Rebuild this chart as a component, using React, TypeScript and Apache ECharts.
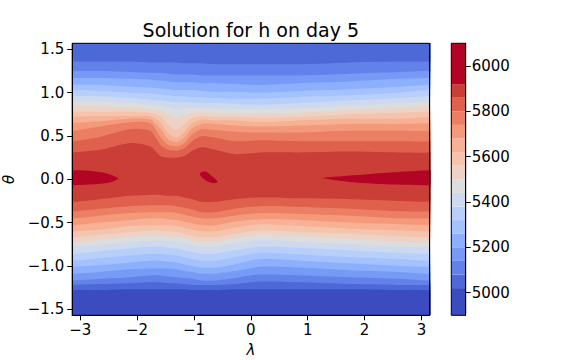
import React, { useEffect, useRef } from "react";
import * as echarts from "echarts";

// contour levels of h (colour bar boundaries)
const levels = [4900, 5020, 5080, 5140, 5200, 5260, 5320, 5380, 5440, 5500, 5560, 5620, 5680, 5740, 5800, 5860, 5920, 6100];

// longitudes (rad) at which the contour positions were read
const lambdaCols = [-3.14, -2.65, -2.12, -1.77, -1.59, -1.45, -1.31, -1.17, -1.03, -0.86, -0.63, -0.28, 0.16, 0.86, 1.74, 2.62, 3.14];

// northern-hemisphere latitude (rad) of contour levels 5080 ... 5860
const northTheta = [
  [1.36, 1.36, 1.36, 1.35, 1.35, 1.35, 1.35, 1.34, 1.34, 1.34, 1.33, 1.33, 1.33, 1.33, 1.35, 1.36, 1.36],
  [1.25, 1.25, 1.24, 1.23, 1.23, 1.22, 1.21, 1.21, 1.21, 1.20, 1.20, 1.20, 1.20, 1.20, 1.22, 1.24, 1.25],
  [1.17, 1.17, 1.16, 1.15, 1.14, 1.13, 1.12, 1.12, 1.12, 1.11, 1.11, 1.10, 1.09, 1.11, 1.13, 1.16, 1.17],
  [1.09, 1.09, 1.07, 1.06, 1.05, 1.04, 1.03, 1.03, 1.03, 1.02, 1.01, 1.01, 1.00, 1.02, 1.04, 1.07, 1.09],
  [1.03, 1.02, 1.00, 0.99, 0.98, 0.97, 0.96, 0.96, 0.95, 0.95, 0.94, 0.93, 0.93, 0.95, 0.97, 1.00, 1.03],
  [0.96, 0.96, 0.94, 0.92, 0.91, 0.90, 0.89, 0.89, 0.89, 0.88, 0.88, 0.87, 0.86, 0.88, 0.91, 0.94, 0.96],
  [0.90, 0.90, 0.88, 0.86, 0.85, 0.83, 0.81, 0.82, 0.83, 0.82, 0.82, 0.81, 0.81, 0.82, 0.85, 0.88, 0.90],
  [0.85, 0.84, 0.83, 0.81, 0.79, 0.75, 0.71, 0.74, 0.77, 0.77, 0.77, 0.76, 0.76, 0.77, 0.80, 0.82, 0.85],
  [0.78, 0.78, 0.78, 0.77, 0.73, 0.63, 0.57, 0.64, 0.71, 0.73, 0.72, 0.72, 0.71, 0.72, 0.75, 0.77, 0.78],
  [0.72, 0.73, 0.73, 0.73, 0.66, 0.53, 0.48, 0.55, 0.65, 0.69, 0.68, 0.68, 0.66, 0.68, 0.70, 0.70, 0.72],
  [0.65, 0.67, 0.70, 0.69, 0.58, 0.46, 0.43, 0.48, 0.59, 0.64, 0.64, 0.62, 0.61, 0.62, 0.64, 0.64, 0.65],
  [0.56, 0.61, 0.66, 0.65, 0.49, 0.40, 0.38, 0.42, 0.52, 0.58, 0.57, 0.55, 0.54, 0.54, 0.56, 0.56, 0.56],
  [0.44, 0.49, 0.58, 0.56, 0.40, 0.34, 0.33, 0.36, 0.44, 0.50, 0.48, 0.44, 0.45, 0.44, 0.44, 0.44, 0.44],
  [0.31, 0.34, 0.42, 0.38, 0.27, 0.25, 0.25, 0.27, 0.33, 0.37, 0.34, 0.29, 0.31, 0.31, 0.32, 0.31, 0.31],
];

// southern-hemisphere latitude (rad) of contour levels 5020 ... 5860
const southTheta = [
  [-1.28, -1.28, -1.27, -1.27, -1.27, -1.27, -1.27, -1.27, -1.28, -1.28, -1.28, -1.27, -1.27, -1.27, -1.27, -1.28, -1.28],
  [-1.22, -1.21, -1.20, -1.19, -1.19, -1.20, -1.20, -1.21, -1.22, -1.22, -1.22, -1.21, -1.18, -1.19, -1.21, -1.22, -1.22],
  [-1.17, -1.15, -1.13, -1.11, -1.11, -1.12, -1.13, -1.14, -1.15, -1.17, -1.17, -1.14, -1.10, -1.11, -1.13, -1.15, -1.17],
  [-1.09, -1.07, -1.04, -1.03, -1.03, -1.03, -1.04, -1.06, -1.07, -1.09, -1.09, -1.06, -1.01, -1.02, -1.05, -1.07, -1.09],
  [-1.01, -0.99, -0.96, -0.94, -0.94, -0.95, -0.96, -0.98, -1.00, -1.02, -1.02, -0.98, -0.92, -0.94, -0.97, -1.00, -1.01],
  [-0.94, -0.91, -0.88, -0.86, -0.86, -0.87, -0.88, -0.90, -0.92, -0.94, -0.94, -0.90, -0.85, -0.87, -0.90, -0.92, -0.94],
  [-0.86, -0.83, -0.80, -0.78, -0.78, -0.79, -0.80, -0.82, -0.84, -0.86, -0.86, -0.82, -0.78, -0.79, -0.82, -0.85, -0.86],
  [-0.78, -0.76, -0.72, -0.71, -0.71, -0.71, -0.72, -0.74, -0.76, -0.78, -0.78, -0.74, -0.70, -0.72, -0.75, -0.78, -0.78],
  [-0.73, -0.70, -0.67, -0.65, -0.65, -0.66, -0.67, -0.68, -0.71, -0.72, -0.72, -0.68, -0.64, -0.66, -0.69, -0.72, -0.73],
  [-0.67, -0.64, -0.61, -0.59, -0.59, -0.60, -0.61, -0.63, -0.65, -0.67, -0.67, -0.63, -0.59, -0.61, -0.63, -0.66, -0.67],
  [-0.60, -0.58, -0.54, -0.53, -0.53, -0.53, -0.54, -0.56, -0.58, -0.60, -0.60, -0.56, -0.52, -0.54, -0.57, -0.59, -0.60],
  [-0.53, -0.50, -0.47, -0.45, -0.45, -0.46, -0.47, -0.49, -0.51, -0.53, -0.53, -0.49, -0.46, -0.47, -0.50, -0.52, -0.53],
  [-0.45, -0.42, -0.39, -0.38, -0.38, -0.38, -0.39, -0.41, -0.43, -0.45, -0.45, -0.42, -0.39, -0.40, -0.42, -0.45, -0.45],
  [-0.37, -0.34, -0.31, -0.30, -0.30, -0.30, -0.31, -0.33, -0.35, -0.38, -0.38, -0.34, -0.31, -0.32, -0.34, -0.37, -0.37],
  [-0.26, -0.23, -0.19, -0.18, -0.18, -0.19, -0.19, -0.21, -0.23, -0.26, -0.26, -0.23, -0.21, -0.22, -0.23, -0.25, -0.26],
];

// closed regions where h > 5920, as [lambda, theta] outlines
const peakWest = [[-3.7, 0.105], [-3.14, 0.105], [-2.85, 0.1], [-2.62, 0.08], [-2.45, 0.05], [-2.33, 0.01], [-2.45, -0.03], [-2.7, -0.055], [-3.14, -0.07], [-3.7, -0.07]];
const peakMid = [[-0.9, 0.06], [-0.86, 0.085], [-0.79, 0.09], [-0.71, 0.05], [-0.62, 0.0], [-0.58, -0.035], [-0.65, -0.045], [-0.76, -0.025], [-0.86, 0.02]];
const peakEast = [[1.27, 0.015], [1.6, 0.035], [2.0, 0.055], [2.5, 0.08], [3.14, 0.105], [3.7, 0.105], [3.7, -0.07], [3.14, -0.07], [2.5, -0.06], [2.0, -0.045], [1.6, -0.02]];

const xTicks = [-3, -2, -1, 0, 1, 2, 3];
const yTicks = [-1.5, -1, -0.5, 0, 0.5, 1, 1.5];
const cbTicks = [5000, 5200, 5400, 5600, 5800, 6000];

// coolwarm colormap samples
const coolwarm = [
  [59, 76, 192], [68, 90, 204], [77, 104, 215], [87, 117, 225], [98, 130, 234], [108, 142, 241], [119, 154, 247], [130, 165, 251],
  [141, 176, 254], [152, 185, 255], [163, 194, 255], [174, 201, 253], [184, 208, 249], [194, 213, 244], [204, 217, 238], [213, 219, 230],
  [221, 221, 221], [229, 216, 209], [236, 211, 197], [241, 204, 185], [245, 196, 173], [247, 187, 160], [247, 177, 148], [247, 166, 135],
  [244, 154, 123], [241, 141, 111], [236, 127, 99], [229, 112, 88], [222, 96, 77], [213, 80, 66], [203, 62, 56], [192, 40, 47], [180, 4, 38],
];
function cmap(t: number): string {
  const tt = Math.max(0, Math.min(1, t));
  const x = tt * 32;
  const i = Math.min(31, Math.floor(x));
  const f = x - i;
  const a = coolwarm[i], b = coolwarm[i + 1];
  const c = [0, 1, 2].map((k) => Math.round(a[k] + (b[k] - a[k]) * f));
  return `rgb(${c[0]},${c[1]},${c[2]})`;
}
const normMin = 4990;
const normMax = 5950;
const bandColors = levels.slice(0, -1).map((l, i) => cmap(((l + levels[i + 1]) / 2 - normMin) / (normMax - normMin)));

const TWO_PI = 2 * Math.PI;
function extendRow(row: number[]): [number, number][] {
  const n = lambdaCols.length;
  const pts: [number, number][] = [];
  pts.push([lambdaCols[n - 2] - TWO_PI, row[n - 2]]);
  for (let i = 0; i < n; i++) pts.push([lambdaCols[i], row[i]]);
  pts.push([lambdaCols[1] + TWO_PI, row[1]]);
  return pts;
}

type Region = { points: [number, number][]; color: string };
function buildRegions(): Region[] {
  const regions: Region[] = [];
  regions.push({ points: [[-4, -2], [4, -2], [4, 2], [-4, 2]], color: bandColors[0] });
  const topRow = lambdaCols.map(() => 2.0);
  for (let k = 1; k <= 15; k++) {
    const north = k === 1 ? topRow : northTheta[k - 2];
    const south = southTheta[k - 1];
    const n = extendRow(north);
    const s = extendRow(south).reverse();
    regions.push({ points: [...n, ...s], color: bandColors[k] });
  }
  [peakWest, peakMid, peakEast].forEach((p) => regions.push({ points: p as [number, number][], color: bandColors[16] }));
  return regions;
}

const FONT = "DejaVu Sans";
const minusFmt = (s: string) => s.replace("-", "\u2212");

export default function App() {
  const ref = useRef<HTMLDivElement>(null);
  useEffect(() => {
    document.body.style.margin = "0";
    if (!ref.current) return;
    const chart = echarts.init(ref.current, undefined, { renderer: "svg" });
    const regions = buildRegions();
    const labelStyle = { color: "#000", fontSize: 15, fontFamily: FONT };
    const option: any = {
      animation: false,
      backgroundColor: "#fff",
      graphic: [
        {
          type: "text",
          x: 250.8,
          y: 30,
          z: 10,
          style: { text: "Solution for h on day 5", fill: "#000", fontSize: 19, fontFamily: FONT, align: "center", verticalAlign: "middle" },
        },
      ],
      grid: [
        { left: 72.2, top: 43.3, width: 357.3, height: 272, containLabel: false, outerBoundsMode: "none" },
        { left: 451.3, top: 43.3, width: 14.4, height: 272, containLabel: false, outerBoundsMode: "none" },
      ],
      xAxis: [
        {
          type: "value",
          gridIndex: 0,
          min: -Math.PI,
          max: Math.PI,
          z: 5,
          axisLine: { show: true, onZero: false, lineStyle: { color: "#000", width: 1 } },
          axisTick: { show: true, length: 5, customValues: xTicks, lineStyle: { color: "#000", width: 1 } },
          axisLabel: { ...labelStyle, margin: 7, customValues: xTicks, formatter: (v: number) => minusFmt(String(v)) },
          splitLine: { show: false },
          name: "\u03bb",
          nameLocation: "middle",
          nameGap: 27,
          nameTextStyle: { ...labelStyle, fontStyle: "italic", lineHeight: 15 },
        },
        { type: "value", gridIndex: 1, min: 0, max: 1, show: false },
      ],
      yAxis: [
        {
          type: "value",
          gridIndex: 0,
          min: -Math.PI / 2,
          max: Math.PI / 2,
          z: 5,
          axisLine: { show: true, onZero: false, lineStyle: { color: "#000", width: 1 } },
          axisTick: { show: true, length: 5, customValues: yTicks, lineStyle: { color: "#000", width: 1 } },
          axisLabel: { ...labelStyle, margin: 8, customValues: yTicks, formatter: (v: number) => minusFmt(v.toFixed(1)) },
          splitLine: { show: false },
          name: "\u03b8",
          nameLocation: "middle",
          nameGap: 49,
          nameRotate: 90,
          nameTextStyle: { ...labelStyle, fontStyle: "italic" },
        },
        {
          type: "value",
          gridIndex: 1,
          min: 4900,
          max: 6100,
          position: "right",
          z: 5,
          axisLine: { show: true, onZero: false, lineStyle: { color: "#000", width: 1 } },
          axisTick: { show: true, length: 5, customValues: cbTicks, lineStyle: { color: "#000", width: 1 } },
          axisLabel: { ...labelStyle, margin: 6, customValues: cbTicks, formatter: (v: number) => String(v) },
          splitLine: { show: false },
        },
      ],
      series: [
        {
          type: "custom",
          coordinateSystem: "cartesian2d",
          xAxisIndex: 0,
          yAxisIndex: 0,
          clip: true,
          silent: true,
          z: 2,
          data: regions.map((_, i) => [0, 0, i]),
          renderItem: (params: any, api: any) => {
            const r = regions[params.dataIndex];
            const pts = r.points.map((p) => api.coord(p));
            return { type: "polygon", shape: { points: pts, smooth: 0.25 }, style: { fill: r.color } };
          },
        },
        {
          type: "custom",
          coordinateSystem: "cartesian2d",
          xAxisIndex: 0,
          yAxisIndex: 0,
          clip: false,
          silent: true,
          z: 6,
          data: [[0, 0]],
          renderItem: (params: any, api: any) => {
            const p0 = api.coord([-Math.PI, Math.PI / 2]);
            const p1 = api.coord([Math.PI, -Math.PI / 2]);
            return { type: "rect", shape: { x: p0[0], y: p0[1], width: p1[0] - p0[0], height: p1[1] - p0[1] }, style: { fill: "none", stroke: "#000", lineWidth: 1 } };
          },
        },
        {
          type: "custom",
          coordinateSystem: "cartesian2d",
          xAxisIndex: 1,
          yAxisIndex: 1,
          clip: false,
          silent: true,
          z: 2,
          data: bandColors.map((_, i) => [0.5, (levels[i] + levels[i + 1]) / 2, i]),
          renderItem: (params: any, api: any) => {
            const i = api.value(2);
            const p0 = api.coord([0, levels[i + 1]]);
            const p1 = api.coord([1, levels[i]]);
            return { type: "rect", shape: { x: p0[0], y: p0[1], width: p1[0] - p0[0], height: p1[1] - p0[1] }, style: { fill: bandColors[i] } };
          },
        },
        {
          type: "custom",
          coordinateSystem: "cartesian2d",
          xAxisIndex: 1,
          yAxisIndex: 1,
          clip: false,
          silent: true,
          z: 6,
          data: [[0.5, 5500]],
          renderItem: (params: any, api: any) => {
            const p0 = api.coord([0, levels[levels.length - 1]]);
            const p1 = api.coord([1, levels[0]]);
            return { type: "rect", shape: { x: p0[0], y: p0[1], width: p1[0] - p0[0], height: p1[1] - p0[1] }, style: { fill: "none", stroke: "#000", lineWidth: 1 } };
          },
        },
      ],
    };
    chart.setOption(option);
    return () => chart.dispose();
  }, []);
  return <div ref={ref} style={{ width: 576, height: 360 }} />;
}
